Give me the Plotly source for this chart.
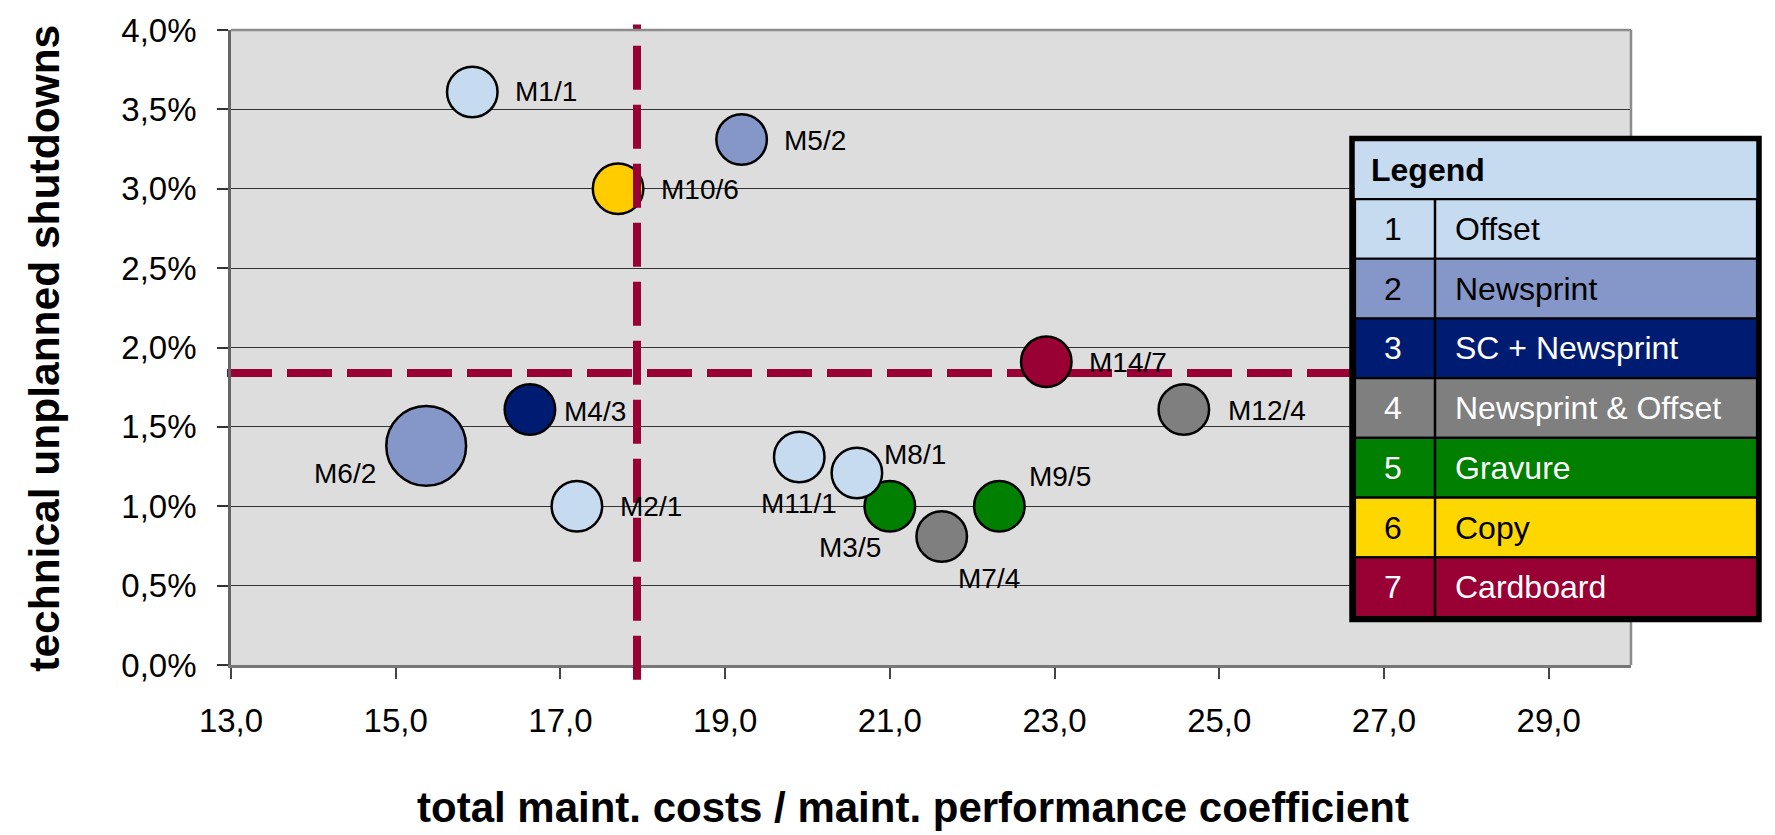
import plotly.graph_objects as go

# ---------------- data ----------------
labels = ["M1/1", "M2/1", "M3/5", "M4/3", "M5/2", "M6/2", "M7/4",
          "M8/1", "M9/5", "M10/6", "M11/1", "M12/4", "M14/7"]
cost_coeff = [15.93, 17.20, 21.00, 16.63, 19.20, 15.37, 21.63,
              20.60, 22.33, 17.70, 19.90, 24.57, 22.90]
shutdowns = [0.0361, 0.0100, 0.0100, 0.0161, 0.0331, 0.0138, 0.0081,
             0.0121, 0.0100, 0.0300, 0.0131, 0.0161, 0.0191]
group = [1, 1, 5, 3, 2, 2, 4, 1, 5, 6, 1, 4, 7]
bubble = [1, 1, 1, 1, 1, 1.58, 1, 1, 1, 1, 1, 1, 1]

threshold_x = 17.93
threshold_y = 0.0184

legend_nums = ["1", "2", "3", "4", "5", "6", "7"]
legend_names = ["Offset", "Newsprint", "SC + Newsprint", "Newsprint & Offset",
                "Gravure", "Copy", "Cardboard"]

x_ticks = [13, 15, 17, 19, 21, 23, 25, 27, 29]
y_ticks = [0.0, 0.005, 0.01, 0.015, 0.02, 0.025, 0.03, 0.035, 0.04]

# ---------------- styles ----------------
FONT = "Liberation Sans, Arial, sans-serif"
bubble_colors = {1: "#C6DBF0", 2: "#8497C8", 3: "#001C72", 4: "#7F7F7F",
                 5: "#007F00", 6: "#FFCC00", 7: "#990033"}
legend_fill = ["#C6DBF0", "#8497C8", "#001C72", "#7F7F7F", "#007F00", "#FFD700", "#990033"]
legend_text = ["black", "black", "white", "white", "white", "black", "white"]

label_pos = {
    "M1/1": ("left", 41, 0), "M2/1": ("left", 41, 0), "M3/5": ("right", -7, -41),
    "M4/3": ("left", 32, -2), "M5/2": ("left", 40, -1), "M6/2": ("right", -48, -28),
    "M7/4": ("left", 14, -42), "M8/1": ("left", 25, 18), "M9/5": ("left", 28, 30),
    "M10/6": ("left", 41, -1), "M11/1": ("center", 0, -46), "M12/4": ("left", 42, -1),
    "M14/7": ("left", 41, -1),
}

W, H = 1775, 835
L, R, T, B = 231, 1631, 24.5, 665   # plot area in pixels


def px(xp):
    return (xp - L) / (R - L)


def py(yp):
    return (B - yp) / (B - T)


fig = go.Figure()
fig.add_trace(go.Scatter(
    x=cost_coeff, y=shutdowns, mode="markers",
    marker=dict(size=bubble, sizemode="diameter", sizeref=1 / 50.5,
                color=[bubble_colors[g] for g in group],
                line=dict(color="black", width=2.5), opacity=1),
    hovertext=labels, showlegend=False,
))

annotations = []
for lab, xv, yv in zip(labels, cost_coeff, shutdowns):
    anc, xs, ys = label_pos[lab]
    annotations.append(dict(x=xv, y=yv, xref="x", yref="y", text=lab, showarrow=False,
                            xanchor=anc, yanchor="middle", xshift=xs, yshift=ys,
                            font=dict(family=FONT, size=28, color="black")))

shapes = []
# threshold lines
shapes.append(dict(type="line", xref="paper", yref="y", x0=px(227), x1=px(1360),
                   y0=threshold_y, y1=threshold_y, layer="between",
                   line=dict(color="#990033", width=8, dash="45px,15px")))
shapes.append(dict(type="line", xref="x", yref="paper", x0=threshold_x, x1=threshold_x,
                   y0=py(680), y1=py(19), layer="above",
                   line=dict(color="#990033", width=8, dash="44px,15px")))
# right and top border of plot
shapes.append(dict(type="line", xref="paper", yref="paper", x0=1, x1=1, y0=0, y1=1,
                   line=dict(color="#8C8C8C", width=2.5)))
shapes.append(dict(type="line", xref="paper", yref="paper", x0=0, x1=1, y0=1, y1=1,
                   line=dict(color="#8C8C8C", width=2.7)))

# legend table
lx0, lx1, ldiv = 1355, 1757, 1435
hy0, hy1 = 136.5, 195
rb = 616.7
row_h = (rb - hy1) / 7
shapes.append(dict(type="rect", xref="paper", yref="paper", x0=px(lx0), x1=px(lx1),
                   y0=py(hy1), y1=py(hy0), fillcolor="#C6DBF0", layer="above",
                   line=dict(width=0)))
annotations.append(dict(xref="paper", yref="paper", x=px(1369), y=py((hy0 + hy1) / 2),
                        text="<b>Legend</b>", showarrow=False, xanchor="left", yanchor="middle",
                        font=dict(family=FONT, size=32, color="black")))
for i, (num, name) in enumerate(zip(legend_nums, legend_names)):
    y0 = hy1 + i * row_h
    y1 = y0 + row_h
    shapes.append(dict(type="rect", xref="paper", yref="paper", x0=px(lx0), x1=px(lx1),
                       y0=py(y1), y1=py(y0), fillcolor=legend_fill[i], layer="above",
                       line=dict(color="black", width=2.2)))
    shapes.append(dict(type="line", xref="paper", yref="paper", x0=px(ldiv), x1=px(ldiv),
                       y0=py(y1), y1=py(y0), layer="above",
                       line=dict(color="black", width=2.5)))
    annotations.append(dict(xref="paper", yref="paper", x=px(1393), y=py((y0 + y1) / 2),
                            text=num, showarrow=False, xanchor="center", yanchor="middle",
                            font=dict(family=FONT, size=32, color=legend_text[i])))
    annotations.append(dict(xref="paper", yref="paper", x=px(1453), y=py((y0 + y1) / 2),
                            text=name, showarrow=False, xanchor="left", yanchor="middle",
                            font=dict(family=FONT, size=32, color=legend_text[i])))
shapes.append(dict(type="rect", xref="paper", yref="paper", x0=px(1352), x1=px(1759),
                   y0=py(619), y1=py(134), layer="above",
                   line=dict(color="black", width=5.5)))

# axis titles
annotations.append(dict(xref="paper", yref="paper", x=px(913), y=py(809),
                        text="<b>total maint. costs / maint. performance coefficient</b>",
                        showarrow=False, xanchor="center", yanchor="middle",
                        font=dict(family=FONT, size=42, color="black")))
annotations.append(dict(xref="paper", yref="paper", x=px(45), y=py(346),
                        text="<b>technical unplanned shutdowns</b>", textangle=-90,
                        showarrow=False, xanchor="center", yanchor="middle",
                        font=dict(family=FONT, size=42.5, color="black")))

fig.update_layout(
    width=W, height=H,
    margin=dict(l=L, r=W - R, t=T, b=H - B, pad=0),
    paper_bgcolor="white", plot_bgcolor="#DDDDDD",
    separators=", ",
    font=dict(family=FONT, color="black"),
    xaxis=dict(range=[13, 30], tickvals=x_ticks, tickformat=".1f",
               ticks="outside", ticklen=11, tickwidth=1.5, tickcolor="#444",
               showgrid=False, zeroline=False, showline=True, linecolor="#777",
               linewidth=2.7, mirror=False, ticklabelstandoff=14,
               tickfont=dict(family=FONT, size=33, color="black")),
    yaxis=dict(range=[0, 0.04], tickvals=y_ticks, tickformat=".1%",
               ticks="outside", ticklen=11, tickwidth=1.5, tickcolor="#333",
               showgrid=True, gridcolor="#333333", gridwidth=1.3, zeroline=False,
               showline=True, linecolor="#666", linewidth=2.7, ticklabelstandoff=14,
               tickfont=dict(family=FONT, size=33, color="black")),
    shapes=shapes, annotations=annotations,
    hovermode=False,
)

fig.write_html("out.html", config={"displayModeBar": False},
               post_script="document.body.style.margin='0';")
